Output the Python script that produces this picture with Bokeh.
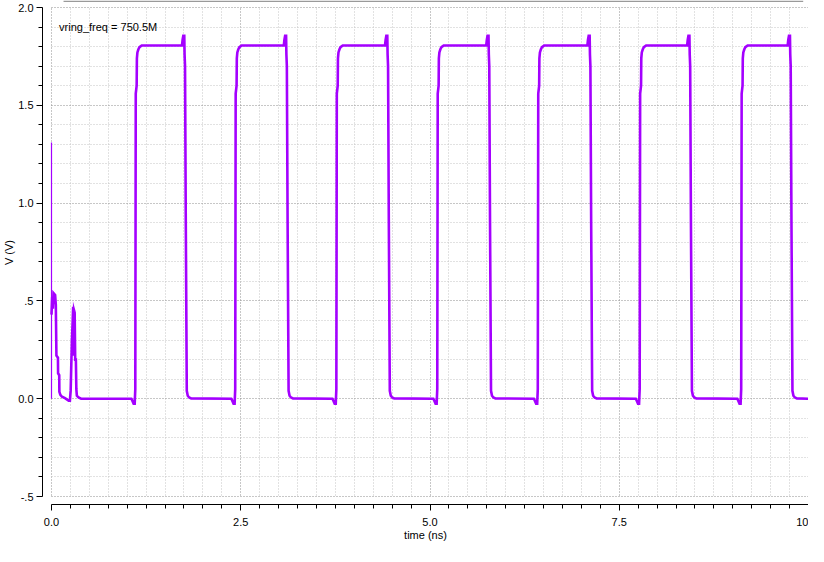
from bokeh.plotting import figure
from bokeh.models import FixedTicker, BoxAnnotation, Label, Range1d
from bokeh.embed import file_html
from bokeh.resources import INLINE

# ---------------- data ----------------
# start-up transient
t_startup = [0.000, 0.009, 0.018, 0.026, 0.048, 0.057, 0.065, 0.085, 0.087, 0.102,
             0.104, 0.117, 0.139, 0.178, 0.227, 0.243, 0.253, 0.260, 0.270, 0.279,
             0.286, 0.292, 0.299, 0.306, 0.313, 0.322, 0.328, 0.335, 0.357, 0.391]
v_startup = [0.43, 0.52, 0.46, 0.54, 0.53, 0.48, 0.22, 0.21, 0.13, 0.12,
             0.035, 0.02, 0.01, 0.003, -0.01, -0.01, 0.04, 0.15, 0.30, 0.39,
             0.47, 0.22, 0.45, 0.44, 0.20, 0.20, 0.05, 0.015, 0.006, 0.0]

# oscillation (ns, V)
t_osc = [
    1.055, 1.068, 1.085, 1.099, 1.107, 1.113, 1.125, 1.128, 1.135, 1.147, 1.162, 1.192,
    1.724, 1.732, 1.741, 1.754, 1.758, 1.764, 1.774, 1.787, 1.800, 1.819, 1.845,
    2.375, 2.388, 2.405, 2.419, 2.427, 2.433, 2.445, 2.448, 2.455, 2.467, 2.482, 2.512,
    3.069, 3.077, 3.086, 3.099, 3.103, 3.109, 3.119, 3.132, 3.145, 3.164, 3.190,
    3.711, 3.724, 3.741, 3.755, 3.763, 3.769, 3.781, 3.784, 3.791, 3.803, 3.818, 3.848,
    4.406, 4.414, 4.423, 4.436, 4.440, 4.446, 4.456, 4.469, 4.482, 4.501, 4.527,
    5.044, 5.057, 5.074, 5.088, 5.096, 5.102, 5.114, 5.117, 5.124, 5.136, 5.151, 5.181,
    5.743, 5.751, 5.760, 5.773, 5.777, 5.783, 5.793, 5.806, 5.819, 5.838, 5.864,
    6.372, 6.385, 6.402, 6.416, 6.424, 6.430, 6.442, 6.445, 6.452, 6.464, 6.479, 6.509,
    7.079, 7.087, 7.096, 7.109, 7.113, 7.119, 7.129, 7.142, 7.155, 7.174, 7.200,
    7.718, 7.731, 7.748, 7.762, 7.770, 7.776, 7.788, 7.791, 7.798, 7.810, 7.825, 7.855,
    8.397, 8.405, 8.414, 8.427, 8.431, 8.437, 8.447, 8.460, 8.473, 8.492, 8.518,
    9.059, 9.072, 9.089, 9.103, 9.111, 9.117, 9.129, 9.132, 9.139, 9.151, 9.166, 9.196,
    9.725, 9.733, 9.742, 9.755, 9.759, 9.765, 9.775, 9.788, 9.801, 9.820, 9.846,
    10.0,
]
v_osc = [
    0.0, -0.01, -0.026, -0.026, 0.05, 1.56, 1.60, 1.74, 1.77, 1.785, 1.797, 1.806,
    1.806, 1.836, 1.855, 1.855, 1.76, 1.70, 0.9, 0.04, 0.015, 0.006, 0.0015,
    0.0, -0.01, -0.026, -0.026, 0.05, 1.56, 1.60, 1.74, 1.77, 1.785, 1.797, 1.806,
    1.806, 1.836, 1.855, 1.855, 1.76, 1.70, 0.9, 0.04, 0.015, 0.006, 0.0015,
    0.0, -0.01, -0.026, -0.026, 0.05, 1.56, 1.60, 1.74, 1.77, 1.785, 1.797, 1.806,
    1.806, 1.836, 1.855, 1.855, 1.76, 1.70, 0.9, 0.04, 0.015, 0.006, 0.0015,
    0.0, -0.01, -0.026, -0.026, 0.05, 1.56, 1.60, 1.74, 1.77, 1.785, 1.797, 1.806,
    1.806, 1.836, 1.855, 1.855, 1.76, 1.70, 0.9, 0.04, 0.015, 0.006, 0.0015,
    0.0, -0.01, -0.026, -0.026, 0.05, 1.56, 1.60, 1.74, 1.77, 1.785, 1.797, 1.806,
    1.806, 1.836, 1.855, 1.855, 1.76, 1.70, 0.9, 0.04, 0.015, 0.006, 0.0015,
    0.0, -0.01, -0.026, -0.026, 0.05, 1.56, 1.60, 1.74, 1.77, 1.785, 1.797, 1.806,
    1.806, 1.836, 1.855, 1.855, 1.76, 1.70, 0.9, 0.04, 0.015, 0.006, 0.0015,
    0.0, -0.01, -0.026, -0.026, 0.05, 1.56, 1.60, 1.74, 1.77, 1.785, 1.797, 1.806,
    1.806, 1.836, 1.855, 1.855, 1.76, 1.70, 0.9, 0.04, 0.015, 0.006, 0.0015,
    0.0,
]

# thin initial-condition line at t = 0
t_init = [0.0, 0.0]
v_init = [0.0, 1.31]

# ticks
x_major = [0.0, 2.5, 5.0, 7.5, 10.0]
x_major_labels = ["0.0", "2.5", "5.0", "7.5", "10"]
x_minor = [i * 0.25 for i in range(41) if i % 10 != 0]
y_major = [-0.5, 0.0, 0.5, 1.0, 1.5, 2.0]
y_major_labels = ["-.5", "0.0", ".5", "1.0", "1.5", "2.0"]
y_minor = [round(-0.5 + i * 0.1, 2) for i in range(26) if i % 5 != 0]

annotation_text = "vring_freq = 750.5M"

# ---------------- figure ----------------
FONT = "Liberation Sans"
TRACE = "#a400ff"

p = figure(width=808, height=546, output_backend="svg", toolbar_location=None,
           x_range=Range1d(-0.1189, 10.0), y_range=Range1d(-0.5409, 2.0358),
           min_border_left=42, min_border_right=0, min_border_top=0,
           min_border_bottom=42)
p.outline_line_color = None
p.background_fill_color = "white"
p.border_fill_color = "white"

xt = FixedTicker(ticks=x_major, minor_ticks=x_minor)
yt = FixedTicker(ticks=y_major, minor_ticks=y_minor)

for ax, tk, labs, ticks, bnds, name in (
        (p.xaxis[0], xt, x_major_labels, x_major, (0.0, 10.0), "time (ns)"),
        (p.yaxis[0], yt, y_major_labels, y_major, (-0.5, 2.0), "V (V)")):
    ax.ticker = tk
    ax.bounds = bnds
    ax.major_label_overrides = {t: l for t, l in zip(ticks, labs)}
    ax.axis_label = name
    ax.axis_line_color = "black"
    ax.axis_line_width = 1
    ax.major_tick_line_color = "black"
    ax.minor_tick_line_color = "black"
    ax.major_tick_in = 0
    ax.major_tick_out = 6
    ax.minor_tick_in = 0
    ax.minor_tick_out = 4
    ax.major_label_text_font = FONT
    ax.major_label_text_font_size = "11px"
    ax.major_label_text_color = "black"
    ax.axis_label_text_font = FONT
    ax.axis_label_text_font_size = "11px"
    ax.axis_label_text_font_style = "normal"
    ax.axis_label_text_color = "black"
    ax.axis_label_standoff = 0

p.xaxis[0].major_label_standoff = 7
p.yaxis[0].major_label_standoff = 3

for g, tk in ((p.xgrid[0], xt), (p.ygrid[0], yt)):
    g.ticker = tk
    g.grid_line_color = "#8f8f8f"
    g.grid_line_dash = "1 2"
    g.grid_line_width = 1
    g.minor_grid_line_color = "#c4c4c4"
    g.minor_grid_line_dash = "1 2"
    g.minor_grid_line_width = 1

# hide grid outside the data region (grid drawn only over 0..10 ns, -0.5..2.0 V)
for kw in (dict(top=-0.5026), dict(right=-0.02), dict(bottom=2.0026)):
    p.add_layout(BoxAnnotation(fill_color="white", fill_alpha=1.0,
                               line_color=None, level="underlay", **kw))

# thin grey rule at the top of the chart
p.add_layout(BoxAnnotation(left=0.159, right=9.93, top=2.0358, bottom=2.0282,
                           fill_color="#9a9a9a", fill_alpha=1.0, line_color=None))

p.line(t_init, v_init, line_color=TRACE, line_width=1.2)
p.line(t_startup + t_osc, v_startup + v_osc, line_color=TRACE, line_width=2.6,
       line_join="miter")

p.add_layout(Label(x=0.10, y=1.90, text=annotation_text, text_font=FONT,
                   text_font_size="11px", text_baseline="middle",
                   text_color="black"))

open("out.html", "w").write(file_html(p, INLINE))
